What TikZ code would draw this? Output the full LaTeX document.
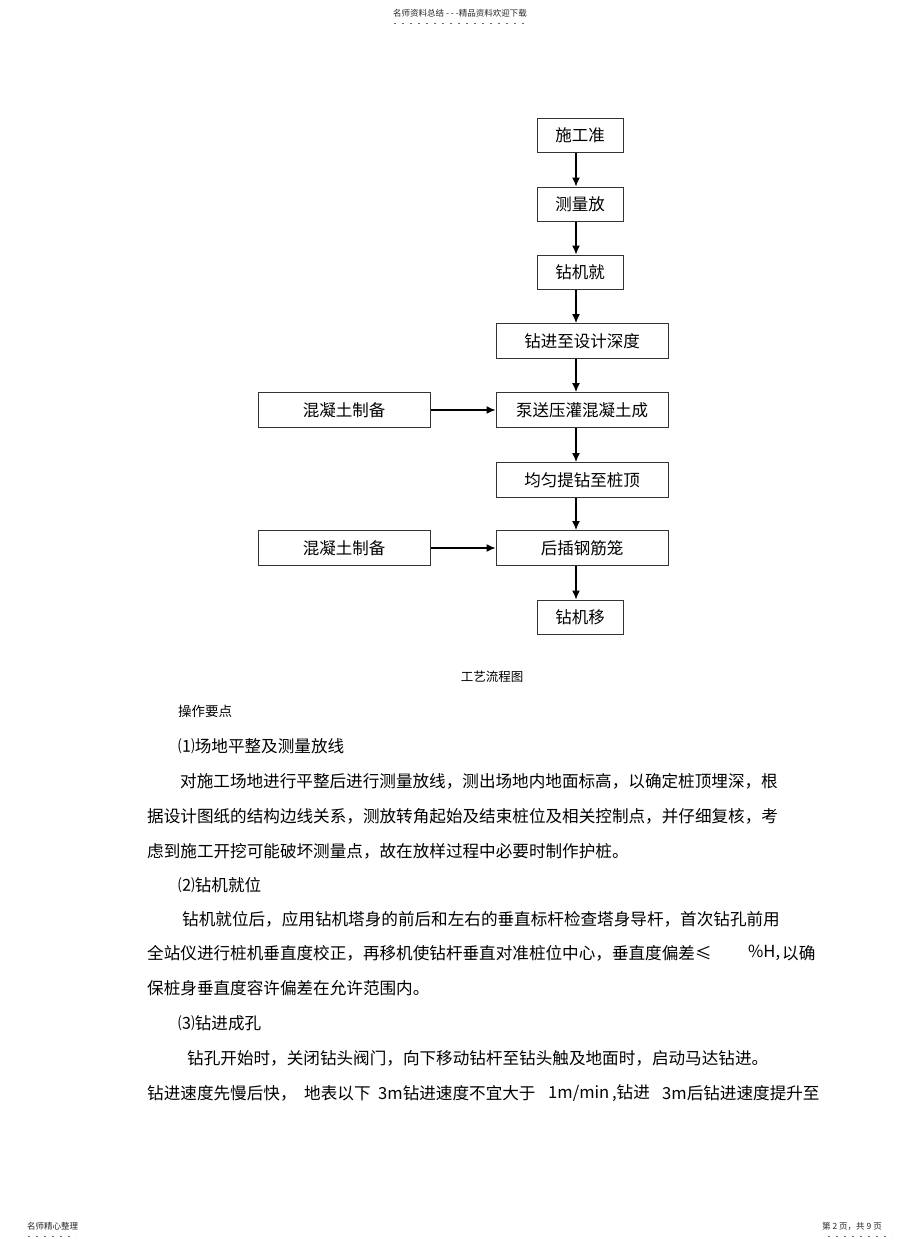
\documentclass[tikz,border=0pt]{standalone}
\usepackage{fontspec}
\setmainfont{Noto Sans CJK SC}
\usetikzlibrary{arrows.meta}

\begin{document}
\begin{tikzpicture}[x=1pt,y=-1pt,
    box/.style={draw=black!80,line width=1pt,minimum height=34pt,inner sep=0pt,font=\fontsize{16.5}{20}\selectfont},
    narrow/.style={box,minimum width=86pt},
    wide/.style={box,minimum width=172pt},
    arr/.style={line width=1.2pt,-{Latex[length=9pt,width=8pt]}},
    txt/.style={anchor=west,inner sep=0pt,font=\fontsize{16.6}{20}\selectfont},
    small/.style={inner sep=0pt,text=black!85,font=\fontsize{8.5}{10}\selectfont},
    dots/.style={black!60,line width=0.8pt,dash pattern=on 2pt off 6pt}]

  \useasboundingbox[fill=white] (0,0) rectangle (920,1248);

  % page header and footer
  \node[small] at (460,13) (head) {名师资料总结\ -\ -\ -精品资料欢迎下载};
  \draw[dots] (394,23) -- (528,23);
  \node[small,anchor=west] at (27,1226) (foot) {名师精心整理};
  \draw[dots] (28,1236) -- (76,1236);
  \node[small,anchor=west] at (822,1226) (page) {第\ 2\ 页，共\ 9\ 页};
  \draw[dots] (828,1236) -- (892,1236);

  % flow chart
  \node[narrow] at (580,135) (prep) {施工准};
  \node[narrow] at (580,204) (survey) {测量放};
  \node[narrow] at (580,272) (rig) {钻机就};
  \node[wide,minimum height=35pt] at (582,341) (drill) {钻进至设计深度};
  \node[wide,minimum height=35pt] at (582,410) (pour) {泵送压灌混凝土成};
  \node[wide,minimum height=35pt] at (344,410) (mixa) {混凝土制备};
  \node[wide,minimum height=35pt] at (582,480) (lift) {均匀提钻至桩顶};
  \node[wide,minimum height=35pt] at (582,548) (cage) {后插钢筋笼};
  \node[wide,minimum height=35pt] at (344,548) (mixb) {混凝土制备};
  \node[narrow] at (580,617) (move) {钻机移};
  \coordinate (axis) at (576,0);

  \path[arr] (prep.south -| axis) edge (survey.north -| axis);
  \path[arr] (survey.south -| axis) edge (rig.north -| axis);
  \path[arr] (rig.south -| axis) edge (drill.north -| axis);
  \path[arr] (drill.south -| axis) edge (pour.north -| axis);
  \path[arr] (pour.south -| axis) edge (lift.north -| axis);
  \path[arr] (lift.south -| axis) edge (cage.north -| axis);
  \path[arr] (cage.south -| axis) edge (move.north -| axis);
  \path[arr] (mixa) edge (pour);
  \path[arr] (mixb) edge (cage);

  \node[inner sep=0pt,font=\fontsize{12.5}{14}\selectfont] at (492,677) (title) {工艺流程图};

  % text below the chart
  \node[txt,font=\fontsize{13.5}{16}\selectfont] at (178,711) (l0) {操作要点};
  \node[txt] at (178,746) (h1) {⑴场地平整及测量放线};
  \node[txt] at (180,781) (l1) {对施工场地进行平整后进行测量放线，测出场地内地面标高，以确定桩顶埋深，根};
  \node[txt] at (147,816) (l2) {据设计图纸的结构边线关系，测放转角起始及结束桩位及相关控制点，并仔细复核，考};
  \node[txt] at (147,851) (l3) {虑到施工开挖可能破坏测量点，故在放样过程中必要时制作护桩。};
  \node[txt] at (178,885) (h2) {⑵钻机就位};
  \node[txt] at (182,919) (l4) {钻机就位后，应用钻机塔身的前后和左右的垂直标杆检查塔身导杆，首次钻孔前用};
  \node[txt] at (147,953) (l5) {全站仪进行桩机垂直度校正，再移机使钻杆垂直对准桩位中心，垂直度偏差≤};
  \node[txt] at (748,953) (l5b) {\%H,};
  \node[txt] at (782,953) (l5c) {以确};
  \node[txt] at (147,988) (l6) {保桩身垂直度容许偏差在允许范围内。};
  \node[txt] at (178,1023) (h3) {⑶钻进成孔};
  \node[txt] at (187,1058) (l7) {钻孔开始时，关闭钻头阀门，向下移动钻杆至钻头触及地面时，启动马达钻进。};
  \node[txt] at (147,1093) (l8a) {钻进速度先慢后快，};
  \node[txt] at (304,1093) (l8b) {地表以下};
  \node[txt] at (378,1093) (l8c) {3m钻进速度不宜大于};
  \node[txt] at (548,1093) (l8d) {1m/min\,,钻进};
  \node[txt] at (662,1093) (l8e) {3m后钻进速度提升至};
\end{tikzpicture}
\end{document}
